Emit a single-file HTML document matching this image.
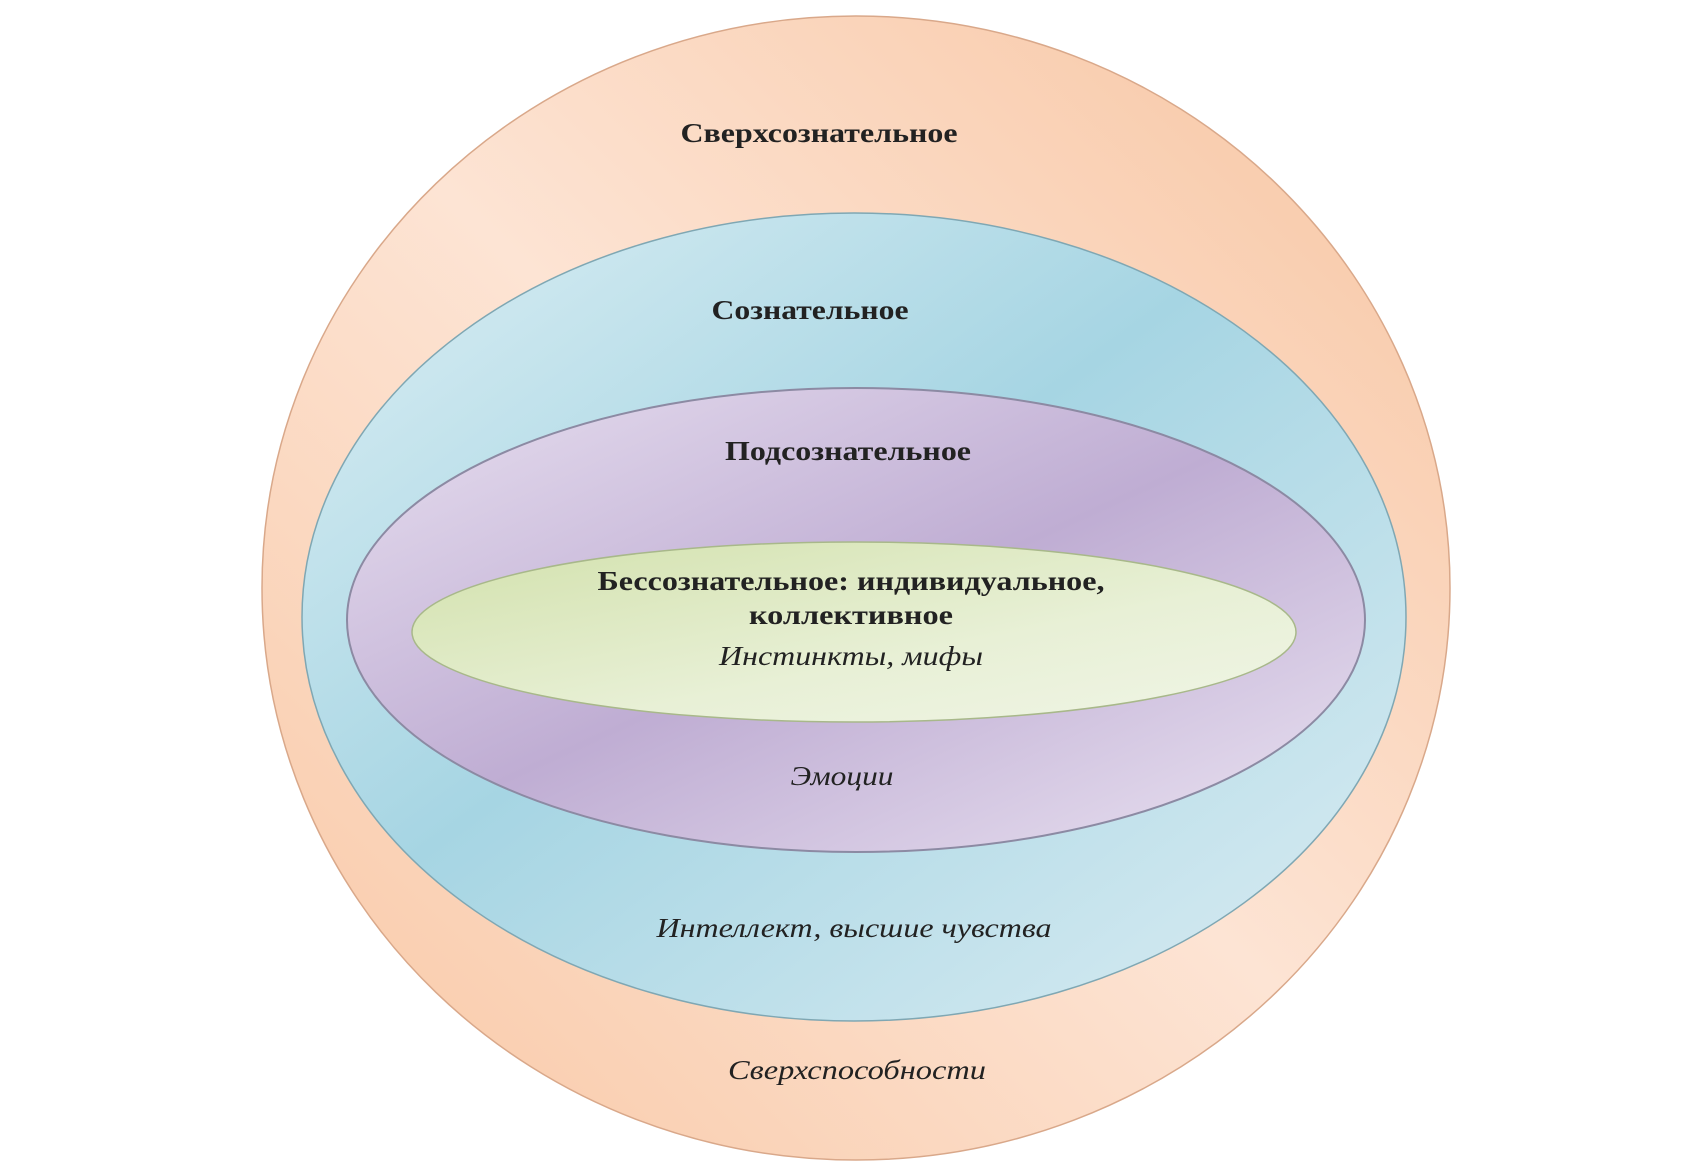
<!DOCTYPE html>
<html><head><meta charset="utf-8"><style>
html,body{margin:0;padding:0;background:#fff;}
svg{display:block}
text{font-family:"Liberation Serif",serif;fill:#222;}
.b{font-weight:bold;font-size:27px;}
.i{font-style:italic;font-size:27px;}
</style></head><body>
<svg width="1704" height="1166" viewBox="0 0 1704 1166">
<defs>
<linearGradient id="go" x1="0" y1="1" x2="1" y2="0">
<stop offset="0" stop-color="#f8c7a4"/><stop offset="0.5" stop-color="#fde4d4"/><stop offset="1" stop-color="#f7c4a0"/></linearGradient>
<linearGradient id="gb" x1="0" y1="0" x2="1" y2="1">
<stop offset="0" stop-color="#ddeff4"/><stop offset="0.45" stop-color="#a6d5e3"/><stop offset="1" stop-color="#dcedf3"/></linearGradient>
<linearGradient id="gp" x1="0" y1="0" x2="1" y2="1">
<stop offset="0" stop-color="#e8e0f0"/><stop offset="0.5" stop-color="#bfadd3"/><stop offset="1" stop-color="#ebe4f2"/></linearGradient>
<linearGradient id="gg" x1="0" y1="0" x2="1" y2="1">
<stop offset="0" stop-color="#d2e1ac"/><stop offset="0.6" stop-color="#e8f0d6"/><stop offset="1" stop-color="#f0f5e6"/></linearGradient>
</defs>
<ellipse cx="856" cy="588" rx="594" ry="572" fill="url(#go)" stroke="#d9a88a" stroke-width="1.5"/>
<ellipse cx="854" cy="617" rx="552" ry="404" fill="url(#gb)" stroke="#7fa7b3" stroke-width="1.5"/>
<ellipse cx="856" cy="620" rx="509" ry="232" fill="url(#gp)" stroke="#8c8aa3" stroke-width="2"/>
<ellipse cx="854" cy="632" rx="442" ry="90" fill="url(#gg)" stroke="#a8b88a" stroke-width="1.5"/>
<text class="b" x="819" y="142" text-anchor="middle" textLength="277" lengthAdjust="spacingAndGlyphs">Сверхсознательное</text>
<text class="b" x="810" y="319" text-anchor="middle" textLength="197" lengthAdjust="spacingAndGlyphs">Сознательное</text>
<text class="b" x="848" y="460" text-anchor="middle" textLength="246" lengthAdjust="spacingAndGlyphs">Подсознательное</text>
<text class="b" x="851" y="590" text-anchor="middle" textLength="507" lengthAdjust="spacingAndGlyphs">Бессознательное: индивидуальное,</text>
<text class="b" x="851" y="624" text-anchor="middle" textLength="204" lengthAdjust="spacingAndGlyphs">коллективное</text>
<text class="i" x="851" y="665" text-anchor="middle" textLength="264" lengthAdjust="spacingAndGlyphs">Инстинкты, мифы</text>
<text class="i" x="842" y="785" text-anchor="middle" textLength="103" lengthAdjust="spacingAndGlyphs">Эмоции</text>
<text class="i" x="854" y="937" text-anchor="middle" textLength="395" lengthAdjust="spacingAndGlyphs">Интеллект, высшие чувства</text>
<text class="i" x="857" y="1079" text-anchor="middle" textLength="258" lengthAdjust="spacingAndGlyphs">Сверхспособности</text>
</svg>
</body></html>
